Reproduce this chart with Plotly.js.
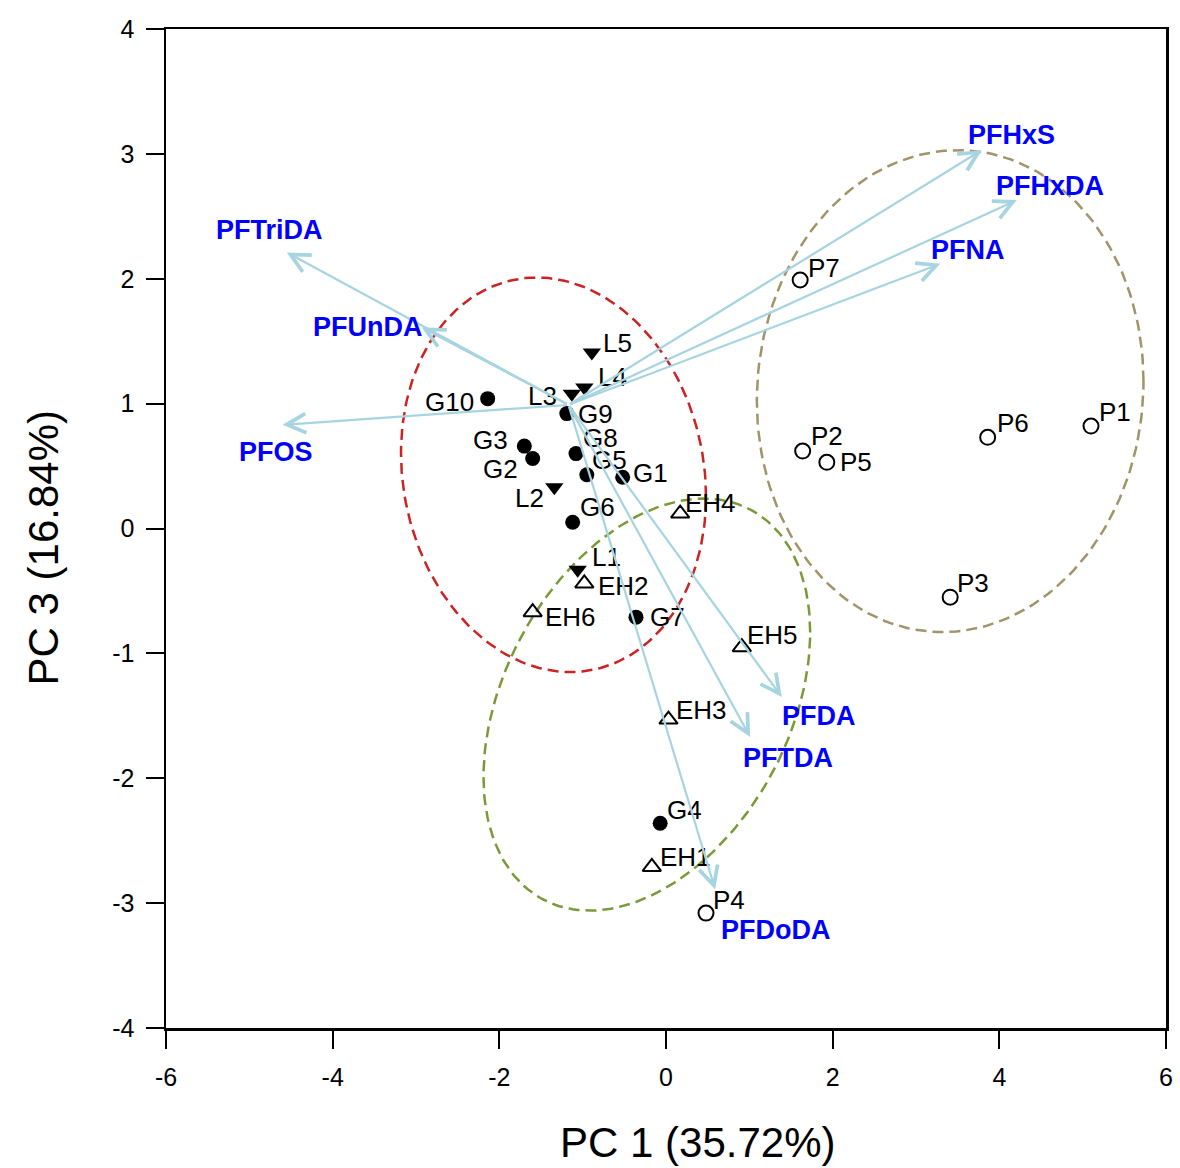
<!DOCTYPE html>
<html>
<head>
<meta charset="utf-8">
<script src="https://cdn.plot.ly/plotly-3.0.1.min.js"></script>
<style>html,body{margin:0;padding:0;background:#fff;}#chart{width:1180px;height:1168px;}</style>
</head>
<body>
<div id="chart"></div>
<script>
// ---- Sample scores (PC1, PC3) ----
const gNames = ['G1','G2','G3','G4','G5','G6','G7','G8','G9','G10'];
const gPC1   = [-0.52,-1.60,-1.70,-0.07,-0.95,-1.12,-0.36,-1.08,-1.19,-2.14];
const gPC3   = [ 0.41, 0.56, 0.66,-2.36, 0.43, 0.05,-0.71, 0.60, 0.92, 1.04];

const lNames = ['L1','L2','L3','L4','L5'];
const lPC1   = [-1.06,-1.34,-1.13,-0.98,-0.89];
const lPC3   = [-0.33, 0.33, 1.08, 1.13, 1.41];

const ehNames = ['EH1','EH2','EH3','EH4','EH5','EH6'];
const ehPC1   = [-0.17,-0.98, 0.03, 0.17, 0.91,-1.60];
const ehPC3   = [-2.71,-0.44,-1.53, 0.12,-0.95,-0.67];

const pNames = ['P1','P2','P3','P4','P5','P6','P7'];
const pPC1   = [ 5.10, 1.64, 3.41, 0.48, 1.93, 3.86, 1.61];
const pPC3   = [ 0.82, 0.62,-0.55,-3.08, 0.53, 0.73, 1.99];

// ---- Variable loadings (arrow tips) ----
const varNames = ['PFHxS','PFHxDA','PFNA','PFTriDA','PFUnDA','PFOS','PFDA','PFTDA','PFDoDA'];
const varPC1   = [ 3.79, 4.21, 3.29,-4.55,-2.93,-4.60, 1.39, 1.01, 0.59];
const varPC3   = [ 3.03, 2.63, 2.12, 2.21, 1.61, 0.83,-1.35,-1.67,-2.89];
const arrowOrigin = [-1.17, 0.99];

// ---- Group ellipses: centre, half-extent in x, half-extent in y, correlation ----
const ellCX  = [-1.35,-0.23, 3.41];
const ellCY  = [ 0.43,-1.41, 1.10];
const ellRX  = [ 1.83, 1.96, 2.32];
const ellRY  = [ 1.58, 1.65, 1.93];
const ellRho = [-0.11, 0.35, 0.04];

// ---- Axis ticks and titles ----
const xTicks = [-6,-4,-2,0,2,4,6];
const yTicks = [-4,-3,-2,-1,0,1,2,3,4];
const xTitle = 'PC 1 (35.72%)';
const yTitle = 'PC 3 (16.84%)';

// ---- Styles ----
const FONT = 'Arial, "Liberation Sans", sans-serif';
const ellColors = ['#CC2222','#7A9A3A','#A19468'];
// label placement per sample: [side, dx px, dy px (down positive)]
const labelStyle = {
  G1:['r',10,-4], G2:['l',-15,10], G3:['l',-16,-6], G4:['r',7,-13], G5:['r',5,-15],
  G6:['r',7,-15], G7:['r',14,0], G8:['r',7,-16], G9:['r',11,0], G10:['l',-14,3],
  L1:['r',14,-13], L2:['l',-10,11], L3:['l',-15,2], L4:['r',14,-10], L5:['r',11,-9],
  EH1:['r',8,-10], EH2:['r',14,3], EH3:['r',7,-10], EH4:['r',5,-11], EH5:['r',5,-12], EH6:['r',12,5],
  P1:['r',8,-14], P2:['r',8,-15], P3:['r',7,-14], P4:['r',7,-13], P5:['r',13,0], P6:['r',9,-14], P7:['r',8,-12]
};
// label offsets from arrow tips (pixels, x right / y up)
const varShiftX = [30, 33, 28,-17,-54, -7, 37, 38, 61];
const varShiftY = [15, 14, 14, 23,  0,-27,-19,-21,-41];

const traces = [];
for (let i = 0; i < ellCX.length; i++) {
  const ex = [], ey = [];
  const s = Math.sqrt(1 - ellRho[i]*ellRho[i]);
  for (let k = 0; k <= 200; k++) {
    const t = 2*Math.PI*k/200;
    ex.push(ellCX[i] + ellRX[i]*Math.cos(t));
    ey.push(ellCY[i] + ellRY[i]*(ellRho[i]*Math.cos(t) + s*Math.sin(t)));
  }
  traces.push({x:ex, y:ey, mode:'lines', line:{color:ellColors[i], width:2.5, dash:'11px,6px'}, hoverinfo:'skip', showlegend:false});
}
const groups = [
  {names:gNames, x:gPC1, y:gPC3, marker:{symbol:'circle', size:15, color:'#000'}},
  {names:lNames, x:lPC1, y:lPC3, marker:{symbol:'triangle-down', size:16, color:'#000'}},
  {names:ehNames, x:ehPC1, y:ehPC3, marker:{symbol:'triangle-up-open', size:16, color:'#000', line:{width:2, color:'#000'}}},
  {names:pNames, x:pPC1, y:pPC3, marker:{symbol:'circle-open', size:15, color:'#000', line:{width:2, color:'#000'}}}
];
const annotations = [];
groups.forEach(g => {
  traces.push({x:g.x, y:g.y, mode:'markers', marker:g.marker, showlegend:false, cliponaxis:false});
  g.names.forEach((n, i) => {
    const st = labelStyle[n];
    annotations.push({x:g.x[i], y:g.y[i], xref:'x', yref:'y', text:n, showarrow:false,
      xanchor: st[0] === 'r' ? 'left' : 'right', yanchor:'middle',
      xshift: st[1] + (st[0] === 'r' ? -2 : 2), yshift: -st[2],
      font:{family:FONT, size:26, color:'#000'}});
  });
});

for (let i = 0; i < varNames.length; i++) {
  annotations.push({x:varPC1[i], y:varPC3[i], ax:arrowOrigin[0], ay:arrowOrigin[1],
    xref:'x', yref:'y', axref:'x', ayref:'y', text:'', showarrow:true,
    arrowhead:5, arrowsize:1.7, arrowwidth:2.2, arrowcolor:'#A6D4E0', standoff:0, startstandoff:0});
}
for (let i = 0; i < varNames.length; i++) {
  annotations.push({x:varPC1[i], y:varPC3[i], xref:'x', yref:'y', text:'<b>'+varNames[i]+'</b>',
    showarrow:false, xshift:varShiftX[i], yshift:varShiftY[i],
    font:{family:FONT, size:27, color:'#0000FF'}});
}

const titleFont = {family:FONT, size:42, color:'#000'};
// axis titles (the reference places them slightly off-centre)
annotations.push({text:xTitle, xref:'paper', yref:'paper', x:0.531, y:-0.115, xanchor:'center', yanchor:'middle',
  showarrow:false, font:titleFont});
annotations.push({text:yTitle, xref:'paper', yref:'paper', x:-0.123, y:0.48, xanchor:'center', yanchor:'middle',
  textangle:-90, showarrow:false, font:titleFont});

const axisFont = {family:FONT, size:25, color:'#000'};
const layout = {
  width:1180, height:1168,
  margin:{l:166, r:14, t:29, b:140},
  paper_bgcolor:'#fff', plot_bgcolor:'#fff',
  showlegend:false, hovermode:false,
  xaxis:{range:[-6,6], tickvals:xTicks, ticktext:xTicks.map(String), ticks:'outside', ticklen:18, tickwidth:2, tickcolor:'#000',
    ticklabelstandoff:7,
    showline:true, linewidth:2.5, linecolor:'#000', mirror:true, showgrid:false, zeroline:false,
    tickfont:axisFont},
  yaxis:{range:[-4,4], tickvals:yTicks, ticktext:yTicks.map(String), ticks:'outside', ticklen:18, tickwidth:2, tickcolor:'#000',
    ticklabelstandoff:6,
    showline:true, linewidth:2.5, linecolor:'#000', mirror:true, showgrid:false, zeroline:false,
    tickfont:axisFont},
  annotations:annotations
};
Plotly.newPlot('chart', traces, layout, {displayModeBar:false, staticPlot:true});
</script>
</body>
</html>
